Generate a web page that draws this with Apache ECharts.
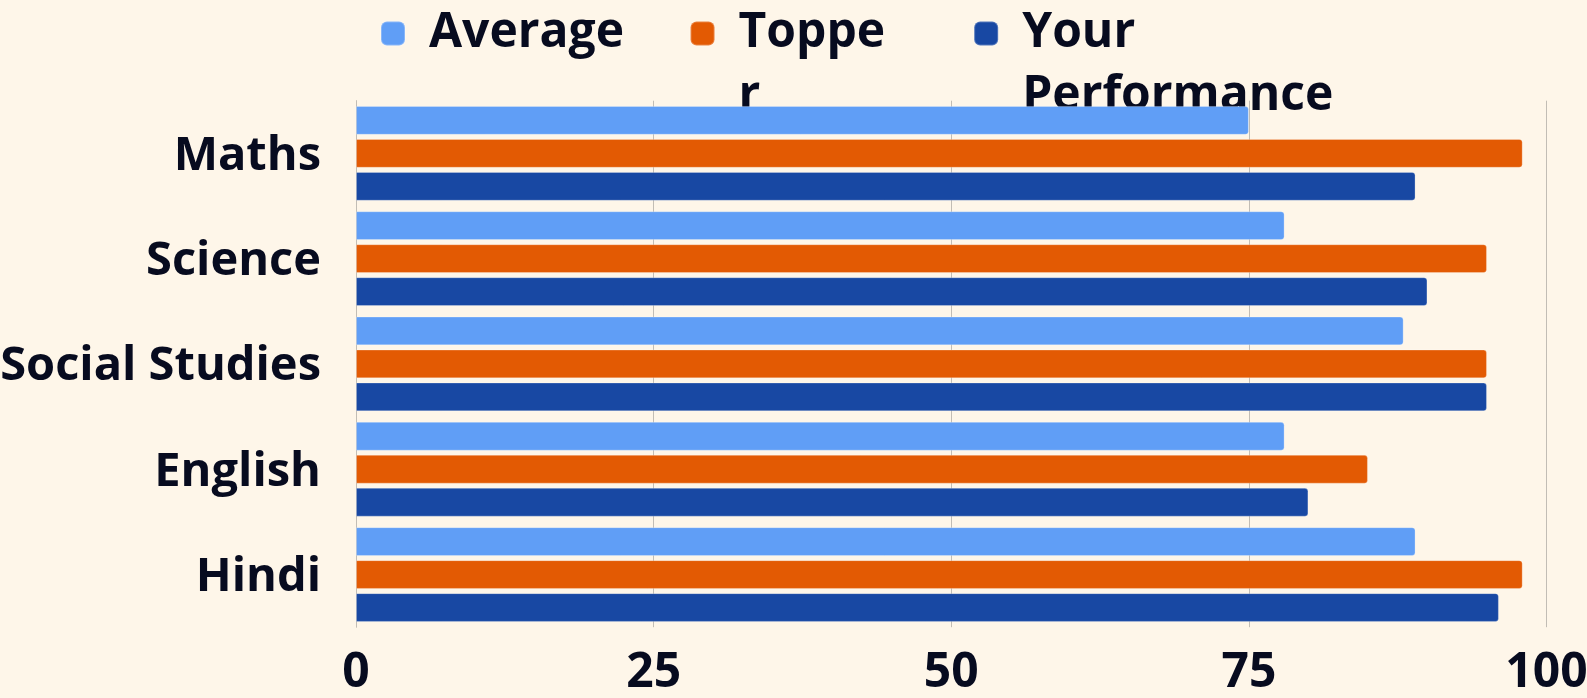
<!DOCTYPE html>
<html>
<head>
<meta charset="utf-8">
<script src="https://cdn.jsdelivr.net/npm/echarts@6/dist/echarts.min.js"></script>
<style>
html,body{margin:0;padding:0;background:#fef6e9;}
#main{width:1587px;height:698px;}
</style>
</head>
<body>
<div id="main"></div>
<script>
const categories = ['Maths', 'Science', 'Social Studies', 'English', 'Hindi'];
const seriesNames = ['Average', 'Topper', 'Your Performance'];
const averageScores = [75, 78, 88, 78, 89];
const topperScores = [98, 95, 95, 85, 98];
const yourScores = [89, 90, 95, 80, 96];
const xTicks = [0, 25, 50, 75, 100];
const seriesColors = ['#609ef6', '#e35a03', '#1848a3'];

const FONT = 'Open Sans';
const TEXT = '#070b1f';
const LH = 63;

const chart = echarts.init(document.getElementById('main'), null, {renderer: 'canvas'});

// wrapped legend labels as they appear in the reference
const legendLabels = {
  'Average': 'Average',
  'Topper': '\nToppe\nr',
  'Your Performance': '\nYour\nPerformance'
};

const option = {
  backgroundColor: '#fef6e9',
  animation: false,
  textStyle: {fontFamily: FONT},
  legend: {
    z: 1,
    left: 380,
    top: -61,
    padding: 0,
    itemWidth: 24,
    itemHeight: 24,
    itemGap: 65.5,
    icon: 'roundRect',
    formatter: function (name) { return legendLabels[name]; },
    textStyle: {
      fontFamily: FONT,
      fontSize: 48,
      fontWeight: 'bold',
      color: TEXT,
      lineHeight: LH,
      padding: [0, 0, 0, 19]
    },
    data: [
      {name: seriesNames[0]},
      {name: seriesNames[1], textStyle: {padding: [0, 22.5, 0, 19]}},
      {name: seriesNames[2]}
    ]
  },
  grid: {
    left: 356,
    right: 40.5,
    top: 100.7,
    height: 526.5,
    containLabel: false,
    outerBoundsMode: 'none'
  },
  xAxis: {
    type: 'value',
    min: xTicks[0],
    max: xTicks[xTicks.length - 1],
    interval: 25,
    axisLine: {show: false},
    axisTick: {show: false},
    axisLabel: {
      fontFamily: FONT,
      fontSize: 48,
      fontWeight: 'bold',
      color: TEXT,
      margin: 22
    },
    splitLine: {show: true, lineStyle: {color: '#c2bdb5', width: 1}}
  },
  yAxis: {
    type: 'category',
    data: categories,
    inverse: true,
    axisLine: {show: true, lineStyle: {color: '#c2bdb5', width: 1}},
    axisTick: {show: false},
    axisLabel: {
      fontFamily: FONT,
      fontSize: 47,
      fontWeight: 'bold',
      color: TEXT,
      margin: 35,
      lineHeight: 6,
      verticalAlign: 'top'
    }
  },
  series: [
    {name: seriesNames[0], type: 'bar', data: averageScores},
    {name: seriesNames[1], type: 'bar', data: topperScores},
    {name: seriesNames[2], type: 'bar', data: yourScores}
  ].map(function (s, i) {
    return Object.assign(s, {
      z: 2,
      barGap: '14.5%',
      barCategoryGap: '10%',
      itemStyle: {
        color: seriesColors[i],
        borderRadius: [0, 3, 3, 0],
        borderColor: 'rgba(255,255,255,0.25)',
        borderWidth: 1
      }
    });
  })
};

chart.setOption(option);
</script>
</body>
</html>
